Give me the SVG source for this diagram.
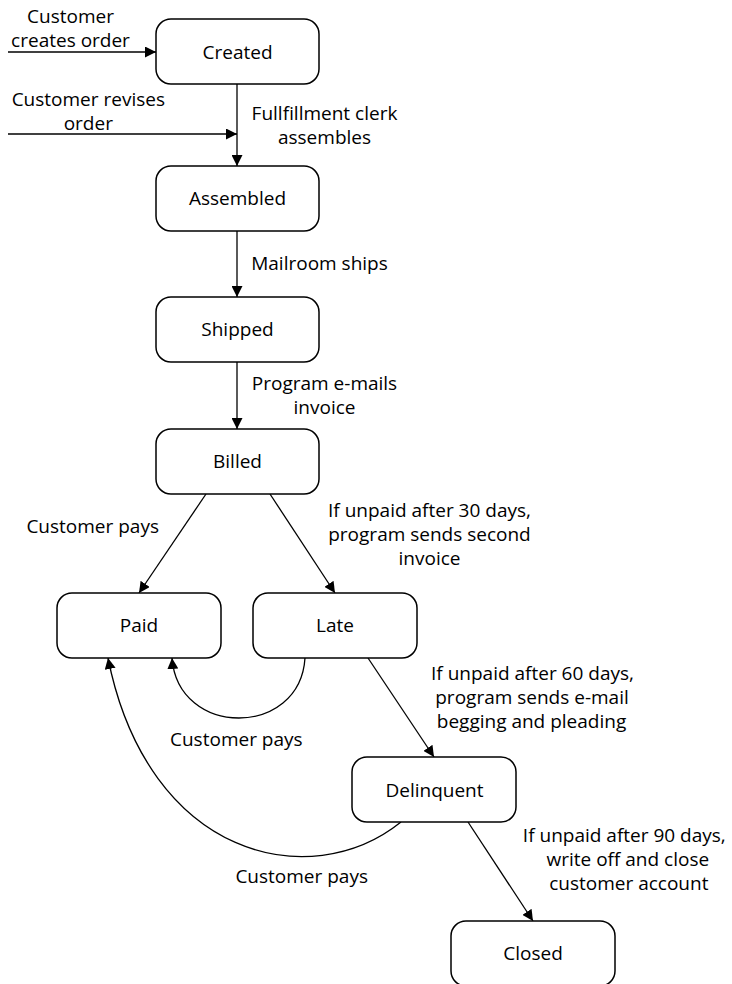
<svg xmlns="http://www.w3.org/2000/svg" width="732" height="984" viewBox="0 0 732 984">
<defs>
<marker id="arr" markerUnits="userSpaceOnUse" markerWidth="12" markerHeight="11" refX="11" refY="5.5" orient="auto">
<path d="M0,0 L11,5.5 L0,11 z" fill="#000"/>
</marker>
<style>
.node rect{fill:#fff;stroke:#000;stroke-width:1.5}
text{font-family:"Open Sans","Noto Sans","Liberation Sans",sans-serif;font-size:19px;fill:#000;text-anchor:middle}
.edge{fill:none;stroke:#000;stroke-width:1.3;marker-end:url(#arr)}
</style>
</defs>
<rect width="732" height="984" fill="#fff"/>
<g id="connectors">
<line class="edge" x1="8" y1="52" x2="156" y2="52"/>
<line class="edge" x1="8" y1="134" x2="237" y2="134"/>
<line class="edge" x1="237" y1="84" x2="237" y2="166"/>
<line class="edge" x1="237" y1="231" x2="237" y2="297"/>
<line class="edge" x1="237" y1="362" x2="237" y2="429"/>
<line class="edge" x1="206" y1="494" x2="139" y2="593"/>
<line class="edge" x1="270" y1="494" x2="335" y2="593"/>
<line class="edge" x1="368" y1="658" x2="434" y2="757"/>
<line class="edge" x1="468" y1="822" x2="533" y2="921"/>
<path class="edge" d="M305,658 C300,738 178,738 172,658"/>
<path class="edge" d="M401,822 C310,895 148,858 108,658"/>
</g>
<g id="labels">
<text x="70.5" y="22.7">Customer</text>
<text x="70.5" y="46.7">creates order</text>
<text x="88.3" y="105.8">Customer revises</text>
<text x="88.3" y="129.8">order</text>
<text x="324.5" y="120.3">Fullfillment clerk</text>
<text x="324.5" y="144.3">assembles</text>
<text x="319.5" y="270">Mailroom ships</text>
<text x="324.5" y="390">Program e-mails</text>
<text x="324.5" y="414">invoice</text>
<text x="92.7" y="533">Customer pays</text>
<text x="429.5" y="516.7">If unpaid after 30 days,</text>
<text x="429.5" y="541.3">program sends second</text>
<text x="429.5" y="565.3">invoice</text>
<text x="532.5" y="679.8">If unpaid after 60 days,</text>
<text x="532" y="703.8">program sends e-mail</text>
<text x="531.5" y="727.8">begging and pleading</text>
<text x="236.3" y="746">Customer pays</text>
<text x="624.3" y="841.5">If unpaid after 90 days,</text>
<text x="627.8" y="865.5">write off and close</text>
<text x="628.8" y="889.5">customer account</text>
<text x="301.7" y="883.3">Customer pays</text>
</g>
<g id="created" class="node"><rect x="156" y="19" width="163" height="65" rx="15"/><text x="237.5" y="59">Created</text></g>
<g id="assembled" class="node"><rect x="156" y="166" width="163" height="65" rx="15"/><text x="237.5" y="205">Assembled</text></g>
<g id="shipped" class="node"><rect x="156" y="297" width="163" height="65" rx="15"/><text x="237.5" y="336">Shipped</text></g>
<g id="billed" class="node"><rect x="156" y="429" width="163" height="65" rx="15"/><text x="237.5" y="468">Billed</text></g>
<g id="paid" class="node"><rect x="57" y="593" width="164" height="65" rx="15"/><text x="139" y="632.3">Paid</text></g>
<g id="late" class="node"><rect x="253" y="593" width="164" height="65" rx="15"/><text x="335" y="632.3">Late</text></g>
<g id="delinquent" class="node"><rect x="352" y="757" width="164" height="65" rx="15"/><text x="434.5" y="796.5">Delinquent</text></g>
<g id="closed" class="node"><rect x="451" y="921" width="164" height="65" rx="15"/><text x="533" y="960">Closed</text></g>
</svg>
